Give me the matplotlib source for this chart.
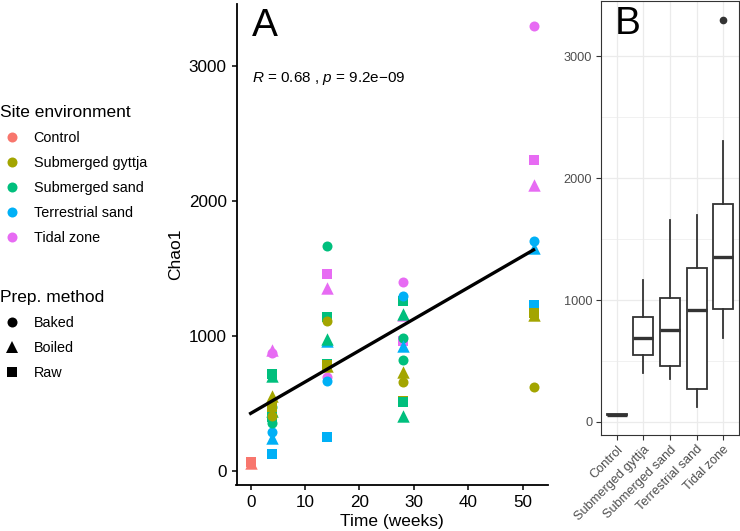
import matplotlib.pyplot as plt
from matplotlib.lines import Line2D
import numpy as np

plt.rcParams['font.family'] = ['Liberation Sans', 'DejaVu Sans']
plt.rcParams['mathtext.fontset'] = 'custom'
plt.rcParams['mathtext.it'] = 'Liberation Sans:italic'
plt.rcParams['mathtext.rm'] = 'Liberation Sans'

# Categorías
sites = ['Control', 'Submerged gyttja', 'Submerged sand', 'Terrestrial sand', 'Tidal zone']
site_colors = ['#F8766D', '#A3A500', '#00BF7D', '#00B0F6', '#E76BF3']
methods = ['Baked', 'Boiled', 'Raw']
method_markers = ['o', '^', 's']
method_sizes = [52, 80, 56]

# Muestras (semana, ambiente, método, Chao1) - el orden define qué punto queda encima
week = [0, 0,
        4, 4, 4, 4, 4, 4, 4, 4, 4, 4, 4, 4, 4, 4,
        14, 14, 14, 14, 14, 14, 14, 14, 14, 14, 14, 14, 14,
        28, 28, 28, 28, 28, 28, 28, 28, 28, 28, 28, 28, 28, 28,
        52, 52, 52, 52, 52, 52, 52, 52, 52]
site = ['Control', 'Control',
        'Terrestrial sand', 'Terrestrial sand', 'Terrestrial sand',
        'Submerged sand', 'Submerged sand', 'Submerged sand', 'Submerged sand',
        'Submerged sand', 'Submerged sand',
        'Submerged gyttja', 'Submerged gyttja', 'Submerged gyttja',
        'Tidal zone', 'Tidal zone',
        'Tidal zone', 'Tidal zone', 'Tidal zone',
        'Terrestrial sand', 'Terrestrial sand', 'Terrestrial sand',
        'Submerged sand', 'Submerged sand', 'Submerged sand', 'Submerged sand',
        'Submerged gyttja', 'Submerged gyttja', 'Submerged gyttja',
        'Tidal zone', 'Tidal zone', 'Tidal zone',
        'Submerged gyttja', 'Submerged gyttja', 'Submerged gyttja',
        'Submerged sand', 'Submerged sand', 'Submerged sand', 'Submerged sand',
        'Submerged sand', 'Submerged sand',
        'Terrestrial sand', 'Terrestrial sand',
        'Tidal zone', 'Tidal zone', 'Tidal zone',
        'Terrestrial sand', 'Terrestrial sand', 'Terrestrial sand',
        'Submerged gyttja', 'Submerged gyttja', 'Submerged gyttja']
method = ['Raw', 'Boiled',
          'Baked', 'Boiled', 'Raw',
          'Baked', 'Raw', 'Boiled', 'Baked', 'Boiled', 'Raw',
          'Baked', 'Raw', 'Boiled',
          'Baked', 'Boiled',
          'Raw', 'Boiled', 'Baked',
          'Boiled', 'Baked', 'Raw',
          'Baked', 'Raw', 'Boiled', 'Raw',
          'Baked', 'Raw', 'Boiled',
          'Baked', 'Boiled', 'Raw',
          'Boiled', 'Baked', 'Raw',
          'Raw', 'Boiled', 'Baked', 'Baked', 'Raw', 'Boiled',
          'Baked', 'Boiled',
          'Baked', 'Raw', 'Boiled',
          'Baked', 'Boiled', 'Raw',
          'Raw', 'Boiled', 'Baked']
chao1 = [66, 55,
         284, 240, 123,
         353, 400, 440, 470, 700, 712,
         403, 470, 555,
         875, 895,
         1456, 1353, 691,
         960, 667, 252,
         1661, 1136, 975, 790,
         1111, 780, 773,
         1395, 1150, 963,
         728, 654, 518,
         1259, 1160, 980, 819, 506, 407,
         1296, 920,
         3296, 2304, 2116,
         1700, 1650, 1225,
         1165, 1150, 617]

week = np.array(week)
chao1 = np.array(chao1)

fig = plt.figure(figsize=(7.4, 5.31), dpi=100)
W, H = 740, 531
axA = fig.add_axes([236.5 / W, 1 - 485 / H, 311.2 / W, 481 / H])
axB = fig.add_axes([600.7 / W, 1 - 435 / H, 138.6 / W, 434.3 / H])

# ---- Panel A: dispersión + regresión lineal ----
for w, s, m, c in zip(week, site, method, chao1):
    k = methods.index(m)
    axA.scatter(w, c, marker=method_markers[k], s=method_sizes[k],
                color=site_colors[sites.index(s)], linewidths=0, zorder=2)

slope, intercept = np.polyfit(week, chao1, 1)
xs = np.array([week.min(), week.max()])
axA.plot(xs, intercept + slope * xs, color='black', linewidth=2.4, zorder=3)

span = chao1.max() - chao1.min()
axA.set_ylim(chao1.min() - 0.05 * span, chao1.max() + 0.05 * span)
axA.set_xlim(-2.6, 54.6)
axA.set_xticks([0, 10, 20, 30, 40, 50])
axA.set_yticks([0, 1000, 2000, 3000])
for sp in ['top', 'right']:
    axA.spines[sp].set_visible(False)
for sp in ['left', 'bottom']:
    axA.spines[sp].set_linewidth(1.3)
axA.tick_params(length=3.5, width=1.1, labelsize=12.3, pad=3.5, colors='black')
axA.set_xlabel('Time (weeks)', fontsize=12.5)
axA.set_ylabel('Chao1', fontsize=12.5)
axA.xaxis.set_label_coords(0.5, -0.06)
axA.yaxis.set_label_coords(-0.172, 0.48)
axA.text(0.05, 0.846, r'$\it{R}$ = 0.68 , $\it{p}$ = 9.2e−09',
         transform=axA.transAxes, fontsize=11, va='center', ha='left')

# ---- Panel B: boxplots por ambiente ----
groups = [chao1[np.array(site) == s] for s in sites]
positions = np.arange(1, len(sites) + 1)
axB.boxplot(groups, positions=positions, widths=0.75, showcaps=False,
            patch_artist=True,
            boxprops=dict(facecolor='white', edgecolor='#333333', linewidth=1.3),
            whiskerprops=dict(color='#333333', linewidth=1.3),
            medianprops=dict(color='#333333', linewidth=2.4),
            flierprops=dict(marker='o', markerfacecolor='#333333',
                            markeredgecolor='#333333', markersize=4.5),
            zorder=3)
axB.set_xlim(0.4, 5.6)
axB.set_ylim(chao1.min() - 0.05 * span, chao1.max() + 0.05 * span)
axB.set_yticks([0, 1000, 2000, 3000])
axB.set_yticks([500, 1500, 2500], minor=True)
axB.set_xticks(positions)
axB.set_xticklabels(sites, rotation=45, ha='right', rotation_mode='anchor')
axB.grid(True, which='major', color='#EBEBEB', linewidth=0.9, zorder=0)
axB.grid(True, which='minor', axis='y', color='#EBEBEB', linewidth=0.5, zorder=0)
axB.set_axisbelow(True)
for sp in axB.spines.values():
    sp.set_color('#333333')
    sp.set_linewidth(0.8)
axB.tick_params(which='major', length=3.5, width=0.8, color='#333333',
                labelsize=9.2, labelcolor='#4D4D4D', pad=2.5)
axB.tick_params(which='minor', length=0)

# Letras de panel
fig.text(265 / W, 1 - 26 / H, 'A', fontsize=28, ha='center', va='center')
fig.text(627.5 / W, 1 - 23.5 / H, 'B', fontsize=28, ha='center', va='center')

# ---- Leyendas ----
site_handles = [Line2D([], [], linestyle='none', marker='o', markersize=7.2,
                       color=c, markeredgewidth=0) for c in site_colors]
leg1 = fig.legend(site_handles, sites, title='Site environment', loc='upper left',
                  bbox_to_anchor=(0, 1 - 105 / H), frameon=False, fontsize=10.4,
                  title_fontsize=12.5, alignment='left', borderpad=0,
                  borderaxespad=0, handlelength=1.63, handletextpad=0.69,
                  labelspacing=0.76)
method_handles = [Line2D([], [], linestyle='none', marker=mk, markersize=ms,
                         color='black', markeredgewidth=0)
                  for mk, ms in zip(method_markers, [7.2, 8.6, 7.4])]
leg2 = fig.legend(method_handles, methods, title='Prep. method', loc='upper left',
                  bbox_to_anchor=(0, 1 - 290 / H), frameon=False, fontsize=10.4,
                  title_fontsize=12.5, alignment='left', borderpad=0,
                  borderaxespad=0, handlelength=1.63, handletextpad=0.69,
                  labelspacing=0.76)

fig.savefig('out.png', dpi=100)
